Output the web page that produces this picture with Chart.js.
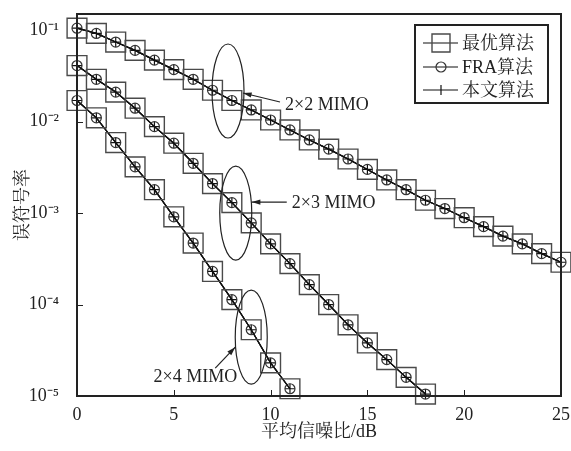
<!DOCTYPE html>
<html>
<head>
<meta charset="utf-8">
<script src="https://cdn.jsdelivr.net/npm/chart.js@4/dist/chart.umd.min.js"></script>
<style>
  html, body { margin: 0; padding: 0; background: #fff; }
  canvas { display: block; }
</style>
</head>
<body>
<canvas id="c" width="571" height="451"></canvas>
<script>
// SNR (dB) points for each antenna setup
const snr2x2 = [0,1,2,3,4,5,6,7,8,9,10,11,12,13,14,15,16,17,18,19,20,21,22,23,24,25];
const snr2x3 = [0,1,2,3,4,5,6,7,8,9,10,11,12,13,14,15,16,17,18];
const snr2x4 = [0,1,2,3,4,5,6,7,8,9,10,11];

// symbol error rate (the three algorithms lie on top of each other)
const ser2x2 = [0.105, 0.092, 0.074, 0.060, 0.047, 0.037, 0.029, 0.022, 0.017, 0.0134, 0.0104, 0.0081,
  0.0063, 0.0050, 0.0039, 0.0030, 0.0023, 0.0018, 0.00138, 0.00112, 0.00089, 0.00071, 0.00056, 0.00046, 0.00036, 0.00029];
const ser2x3 = [0.041, 0.029, 0.021, 0.014, 0.0088, 0.0058, 0.0035, 0.0021, 0.0013, 0.00078, 0.00046, 0.00028,
  0.000165, 0.0001, 0.00006, 0.000038, 0.000025, 0.000016, 0.0000105];
const ser2x4 = [0.017, 0.011, 0.0059, 0.0032, 0.0018, 0.00091, 0.00047, 0.00023, 0.000113, 0.000053, 0.000023, 0.000012];

const algNames = ['最优算法', 'FRA算法', '本文算法'];
const xTicks = [0, 5, 10, 15, 20, 25];
const yTicks = [1e-5, 1e-4, 1e-3, 1e-2, 1e-1];
const yTickLabels = ['10⁻⁵', '10⁻⁴', '10⁻³', '10⁻²', '10⁻¹'];

// ellipse callouts: centre in data coords
const groups = [
  { label: '2×2 MIMO', cx: 7.8, cy: 0.0216, tail: [52, 11], head: [15, 2], text: [57, 14], align: 'left' },
  { label: '2×3 MIMO', cx: 8.2, cy: 0.001, tail: [51, -11], head: [16, -11], text: [56, -10], align: 'left' },
  { label: '2×4 MIMO', cx: 9.0, cy: 0.000044, tail: [-36, 31], head: [-16, 10], text: [-14, 40], align: 'right' }
];

const FONT = '"Liberation Serif", "Noto Serif CJK SC", "Noto Sans CJK SC", serif';

const styles = [
  { pointStyle: 'rect', pointRadius: 14, borderColor: '#4a4a4a', pointBorderWidth: 1.4 },
  { pointStyle: 'circle', pointRadius: 5, borderColor: '#333', pointBorderWidth: 1.2 },
  { pointStyle: 'cross', pointRadius: 5, borderColor: '#111', pointBorderWidth: 1.2 }
];

const series = [[snr2x2, ser2x2], [snr2x3, ser2x3], [snr2x4, ser2x4]];
const datasets = [];
series.forEach(([xs, ys], g) => {
  styles.forEach((s, a) => {
    datasets.push({
      label: algNames[a],
      data: xs.map((x, i) => ({ x: x, y: ys[i] })),
      borderColor: '#111',
      borderWidth: 1.2,
      pointStyle: s.pointStyle,
      pointRadius: s.pointRadius,
      pointBorderColor: s.borderColor,
      pointBorderWidth: s.pointBorderWidth,
      pointBackgroundColor: 'rgba(0,0,0,0)',
      fill: false,
      tension: 0,
      clip: false
    });
  });
});

const decor = {
  id: 'decor',
  afterDraw(chart) {
    const ctx = chart.ctx;
    const a = chart.chartArea;
    const xs = chart.scales.x, ys = chart.scales.y;
    ctx.save();
    // frame
    ctx.strokeStyle = '#222';
    ctx.lineWidth = 2;
    ctx.strokeRect(a.left, a.top, a.right - a.left, a.bottom - a.top);
    // inward ticks
    ctx.lineWidth = 1;
    ctx.beginPath();
    xTicks.slice(1, -1).forEach(v => {
      const px = Math.round(xs.getPixelForValue(v)) + 0.5;
      ctx.moveTo(px, a.bottom); ctx.lineTo(px, a.bottom - 6);
    });
    yTicks.slice(1, -1).forEach(v => {
      const py = Math.round(ys.getPixelForValue(v)) + 0.5;
      ctx.moveTo(a.left, py); ctx.lineTo(a.left + 6, py);
    });
    ctx.stroke();

    // ellipses, arrows, labels
    ctx.font = '18px ' + FONT;
    ctx.fillStyle = '#222';
    groups.forEach(g => {
      const cx = xs.getPixelForValue(g.cx), cy = ys.getPixelForValue(g.cy);
      ctx.strokeStyle = '#222';
      ctx.lineWidth = 1.2;
      ctx.beginPath();
      ctx.ellipse(cx, cy, 16, 47, 0, 0, Math.PI * 2);
      ctx.stroke();
      const tx = cx + g.tail[0], ty = cy + g.tail[1];
      const hx = cx + g.head[0], hy = cy + g.head[1];
      ctx.beginPath();
      ctx.moveTo(tx, ty); ctx.lineTo(hx, hy);
      ctx.stroke();
      const ang = Math.atan2(hy - ty, hx - tx);
      ctx.beginPath();
      ctx.moveTo(hx, hy);
      ctx.lineTo(hx - 9 * Math.cos(ang - 0.3), hy - 9 * Math.sin(ang - 0.3));
      ctx.lineTo(hx - 9 * Math.cos(ang + 0.3), hy - 9 * Math.sin(ang + 0.3));
      ctx.closePath();
      ctx.fill();
      ctx.textAlign = g.align;
      ctx.textBaseline = 'middle';
      ctx.fillText(g.label, cx + g.text[0], cy + g.text[1]);
    });

    // legend
    const lx = 415, ly = 25, lw = 133, lh = 78;
    ctx.fillStyle = '#fff';
    ctx.fillRect(lx, ly, lw, lh);
    ctx.strokeStyle = '#222';
    ctx.lineWidth = 2;
    ctx.strokeRect(lx, ly, lw, lh);
    const rows = [43, 67, 90];
    ctx.font = '18px ' + FONT;
    ctx.textAlign = 'left';
    ctx.textBaseline = 'middle';
    rows.forEach((ry, i) => {
      ctx.strokeStyle = '#111';
      ctx.lineWidth = 1.2;
      ctx.beginPath();
      ctx.moveTo(423, ry); ctx.lineTo(458, ry);
      ctx.stroke();
      ctx.strokeStyle = styles[i].borderColor;
      ctx.lineWidth = styles[i].pointBorderWidth;
      ctx.beginPath();
      if (i === 0) {
        ctx.rect(432, ry - 9, 18, 18);
      } else if (i === 1) {
        ctx.arc(441, ry, 5, 0, Math.PI * 2);
      } else {
        ctx.moveTo(441, ry - 5); ctx.lineTo(441, ry + 5);
      }
      ctx.stroke();
      ctx.fillStyle = '#222';
      ctx.fillText(algNames[i], 462, ry + 1);
    });
    ctx.restore();
  }
};

new Chart(document.getElementById('c'), {
  type: 'line',
  data: { datasets: datasets },
  options: {
    responsive: false,
    animation: false,
    devicePixelRatio: 1,
    layout: { autoPadding: false, padding: { left: 0, top: 14, right: 10, bottom: 0 } },
    plugins: { legend: { display: false }, tooltip: { enabled: false } },
    scales: {
      x: {
        type: 'linear',
        min: 0,
        max: 25,
        afterBuildTicks: (scale) => { scale.ticks = xTicks.map(v => ({ value: v })); },
        afterFit: (scale) => { scale.height = 55; scale.paddingLeft = 0; scale.paddingRight = 0; },
        grid: { display: false },
        border: { display: false },
        ticks: { color: '#222', font: { family: FONT, size: 18 }, padding: 0, maxRotation: 0 },
        title: { display: true, text: '平均信噪比/dB', color: '#222', font: { family: FONT, size: 18 }, padding: { top: 0, bottom: 8 } }
      },
      y: {
        type: 'logarithmic',
        min: 1e-5,
        max: 0.15,
        afterBuildTicks: (scale) => { scale.ticks = yTicks.map(v => ({ value: v })); },
        afterFit: (scale) => { scale.width = 77; scale.paddingTop = 0; scale.paddingBottom = 0; },
        grid: { display: false },
        border: { display: false },
        ticks: {
          color: '#222',
          font: { family: FONT, size: 18 },
          padding: 10,
          callback: (v) => { const i = yTicks.findIndex(t => Math.abs(t - v) / t < 1e-6); return i >= 0 ? yTickLabels[i] : ''; }
        },
        title: { display: true, text: '误符号率', color: '#222', font: { family: FONT, size: 18 }, padding: { top: 12, bottom: 0 } }
      }
    }
  },
  plugins: [decor]
});
</script>
</body>
</html>
